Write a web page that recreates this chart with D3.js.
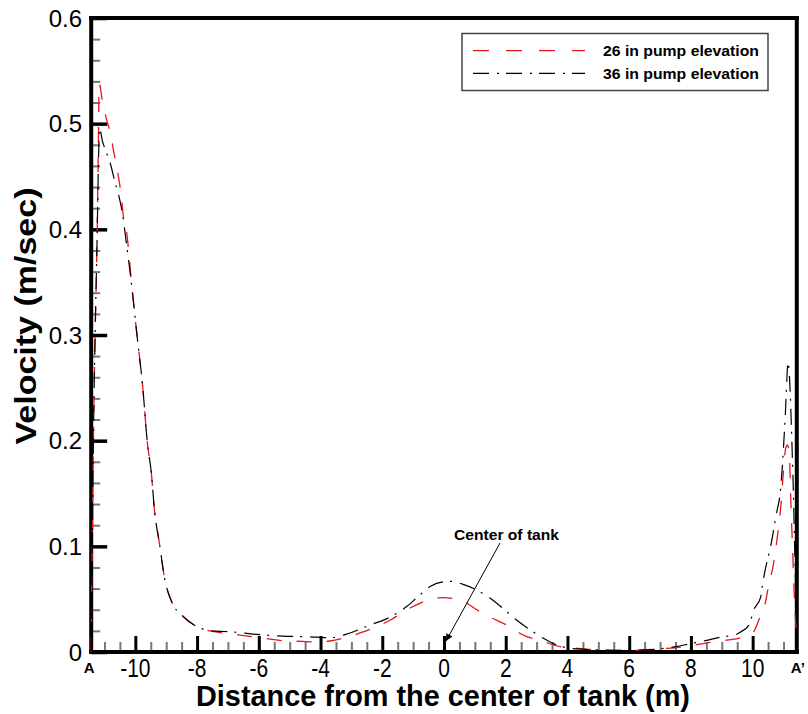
<!DOCTYPE html>
<html>
<head>
<meta charset="utf-8">
<script src="https://cdn.jsdelivr.net/npm/d3@7"></script>
<style>
  html, body { margin: 0; padding: 0; background: #fff; }
  svg { display: block; }
</style>
</head>
<body>
<svg id="chart" width="808" height="714"></svg>
<script>
// ---------- DATA ----------
const seriesNames = ["26 in pump elevation", "36 in pump elevation"];

const x26 = [-11.43, -11.41, -11.39, -11.35, -11.30, -11.24, -11.20, -11.17, -11.07, -10.94,
  -10.81, -10.71, -10.62, -10.52, -10.45, -10.39, -10.29, -10.10, -9.94, -9.77,
  -9.61, -9.48, -9.38, -9.22, -9.06, -8.80, -8.50, -8.00, -7.40, -6.85,
  -6.36, -5.81, -5.32, -4.60, -4.20, -3.70, -3.15, -2.62, -2.20, -1.75,
  -1.21, -0.78, -0.35, 0.00, 0.19, 0.63, 1.06, 1.49, 2.03, 2.57,
  3.22, 3.77, 4.31, 5.00, 5.50, 6.00, 6.50, 7.00, 7.50, 8.00,
  8.50, 9.00, 9.60, 10.00, 10.26, 10.42, 10.53, 10.64, 10.80, 10.91,
  11.00, 11.07, 11.13, 11.19, 11.24, 11.29, 11.34, 11.39, 11.43];
const v26 = [0.000, 0.070, 0.115, 0.219, 0.305, 0.390, 0.475, 0.538, 0.522, 0.505,
  0.491, 0.475, 0.461, 0.445, 0.430, 0.413, 0.399, 0.342, 0.298, 0.254,
  0.198, 0.169, 0.134, 0.103, 0.071, 0.046, 0.035, 0.024, 0.019, 0.017,
  0.015, 0.013, 0.011, 0.010, 0.0095, 0.0104, 0.014, 0.019, 0.024, 0.030,
  0.040, 0.046, 0.051, 0.0515, 0.051, 0.048, 0.040, 0.033, 0.0255, 0.016,
  0.0098, 0.005, 0.0035, 0.002, 0.0015, 0.0015, 0.002, 0.003, 0.004, 0.006,
  0.0085, 0.0105, 0.0135, 0.018, 0.035, 0.048, 0.065, 0.078, 0.109, 0.137,
  0.172, 0.193, 0.196, 0.185, 0.140, 0.100, 0.060, 0.030, 0.010];

const x36 = [-11.43, -11.41, -11.39, -11.35, -11.30, -11.24, -11.19, -11.16, -11.07, -10.94,
  -10.78, -10.68, -10.52, -10.42, -10.29, -10.10, -9.94, -9.77, -9.61, -9.48,
  -9.38, -9.22, -9.06, -8.80, -8.50, -8.00, -7.50, -6.85, -6.20, -5.75,
  -5.23, -4.60, -4.12, -3.70, -3.05, -2.40, -1.75, -1.21, -0.78, -0.45,
  0.00, 0.25, 0.62, 1.06, 1.49, 1.92, 2.36, 2.79, 3.22, 3.66,
  4.09, 4.60, 5.00, 5.50, 6.00, 6.50, 7.00, 7.50, 8.00, 8.47,
  8.96, 9.18, 9.50, 9.61, 9.88, 10.04, 10.26, 10.31, 10.64, 10.75,
  10.91, 10.96, 11.05, 11.15, 11.19, 11.23, 11.28, 11.32, 11.36, 11.40, 11.43];
const v36 = [0.000, 0.070, 0.115, 0.219, 0.305, 0.390, 0.470, 0.496, 0.484, 0.473,
  0.459, 0.447, 0.430, 0.415, 0.387, 0.342, 0.298, 0.254, 0.198, 0.169,
  0.134, 0.103, 0.071, 0.046, 0.035, 0.024, 0.020, 0.019, 0.017, 0.016,
  0.015, 0.0145, 0.014, 0.0135, 0.018, 0.0255, 0.033, 0.043, 0.054, 0.062,
  0.0665, 0.0668, 0.064, 0.0587, 0.051, 0.041, 0.030, 0.021, 0.013, 0.0066,
  0.0035, 0.0025, 0.002, 0.0015, 0.0015, 0.002, 0.003, 0.005, 0.008, 0.0107,
  0.014, 0.015, 0.017, 0.019, 0.0255, 0.040, 0.052, 0.062, 0.109, 0.128,
  0.156, 0.175, 0.220, 0.274, 0.262, 0.235, 0.190, 0.150, 0.100, 0.050, 0.020];

const xTickValues = [-10, -8, -6, -4, -2, 0, 2, 4, 6, 8, 10];
const yTickValues = [0, 0.1, 0.2, 0.3, 0.4, 0.5, 0.6];
const endLabels = ["A", "A\u2019"];
const xTitle = "Distance from the center of tank (m)";
const yTitle = "Velocity (m/sec)";
const annotationText = "Center of tank";
const annotationX = 0;

// ---------- LAYOUT ----------
const svg = d3.select("#chart");
const xDomain = [-11.43, 11.43];
const x = d3.scaleLinear().domain(xDomain).range([91.2, 796.8]);
const y = d3.scaleLinear().domain([0, 0.6]).range([652, 18]);
const font = "'Liberation Sans', Arial, Helvetica, sans-serif";

// minor ticks
const xMinor = d3.range(-11, 11.01, 0.5).filter(v => Math.abs(v % 2) > 1e-6);
const yMinor = d3.range(0.02, 0.6, 0.02).filter(v => Math.abs(Math.round(v * 10) - v * 10) > 1e-6);

const gx = svg.append("g").attr("transform", `translate(0,${y(0)})`);
gx.call(d3.axisBottom(x).tickValues(xMinor).tickSize(-10).tickFormat(""))
  .call(g => g.select(".domain").remove())
  .call(g => g.selectAll("line").attr("stroke", "#777").attr("stroke-width", 2));
const gx2 = svg.append("g").attr("transform", `translate(0,${y(0)})`);
gx2.call(d3.axisBottom(x).tickValues(xTickValues).tickSize(-16).tickPadding(0).tickFormat(""))
  .call(g => g.select(".domain").remove())
  .call(g => g.selectAll("line").attr("stroke", "#000").attr("stroke-width", 3));

const gy = svg.append("g").attr("transform", `translate(${x(xDomain[0])},0)`);
gy.call(d3.axisLeft(y).tickValues(yMinor).tickSize(-9).tickFormat(""))
  .call(g => g.select(".domain").remove())
  .call(g => g.selectAll("line").attr("stroke", "#777").attr("stroke-width", 2));
const gy2 = svg.append("g").attr("transform", `translate(${x(xDomain[0])},0)`);
gy2.call(d3.axisLeft(y).tickValues(yTickValues).tickSize(-16).tickFormat(""))
  .call(g => g.select(".domain").remove())
  .call(g => g.selectAll("line").attr("stroke", "#000").attr("stroke-width", 3.5));

// y tick labels
svg.append("g").selectAll("text").data(yTickValues).join("text")
  .attr("x", 82).attr("y", d => y(d) + 8.5)
  .attr("text-anchor", "end")
  .attr("font-family", font).attr("font-size", 24)
  .text(d => d === 0 ? "0" : d3.format(".1f")(d));

// x tick labels (condensed)
svg.append("g").selectAll("text").data(xTickValues).join("text")
  .attr("transform", d => `translate(${x(d)},677) scale(0.84,1)`)
  .attr("text-anchor", "middle")
  .attr("font-family", font)
  .attr("font-size", 25)
  .text(d => d);

// end labels A / A'
svg.append("text").attr("x", x(xDomain[0]) - 2).attr("y", 673).attr("text-anchor", "middle")
  .attr("font-family", font).attr("font-weight", "bold").attr("font-size", 15).text(endLabels[0]);
svg.append("text").attr("x", x(xDomain[1]) - 6).attr("y", 673).attr("text-anchor", "start")
  .attr("font-family", font).attr("font-weight", "bold").attr("font-size", 15).text(endLabels[1]);

// frame lines
const frame = svg.append("g").attr("stroke", "#000").attr("stroke-width", 4).attr("stroke-linecap", "square");
frame.append("line").attr("x1", x(xDomain[0])).attr("x2", x(xDomain[0])).attr("y1", y(0.6)).attr("y2", y(0));
frame.append("line").attr("x1", x(xDomain[0])).attr("x2", x(xDomain[1])).attr("y1", y(0)).attr("y2", y(0));
frame.append("line").attr("x1", x(xDomain[1])).attr("x2", x(xDomain[1])).attr("y1", y(0.6)).attr("y2", y(0));
frame.append("line").attr("x1", x(xDomain[0])).attr("x2", x(xDomain[1])).attr("y1", y(0.6)).attr("y2", y(0.6));

// curves
const line = d3.line().x(d => x(d[0])).y(d => y(d[1])).curve(d3.curveMonotoneX);
const d26 = x26.map((v, i) => [v, v26[i]]);
const d36 = x36.map((v, i) => [v, v36[i]]);
const styles = [
  { color: "#e8141c", dash: "15,15", width: 1.3 },
  { color: "#000", dash: "16,7,2,8", width: 1.2 }
];
[d26, d36].forEach((d, i) => {
  svg.append("path").datum(d).attr("d", line)
    .attr("fill", "none").attr("stroke", styles[i].color)
    .attr("stroke-width", styles[i].width).attr("stroke-dasharray", styles[i].dash);
});

// legend
const lg = svg.append("g");
lg.append("rect").attr("x", 462).attr("y", 33.5).attr("width", 306).attr("height", 57)
  .attr("fill", "#fff").attr("stroke", "#444").attr("stroke-width", 1.5);
seriesNames.forEach((name, i) => {
  const ly = 50.7 + i * 22.6;
  lg.append("line").attr("x1", 473).attr("x2", 585).attr("y1", ly).attr("y2", ly)
    .attr("stroke", styles[i].color).attr("stroke-width", 1.3).attr("stroke-dasharray", i === 0 ? "16,17" : "16,8,2,7");
  lg.append("text").attr("x", 603).attr("y", ly + 5.5)
    .attr("font-family", font).attr("font-weight", "bold").attr("font-size", 15)
    .attr("textLength", 156).attr("lengthAdjust", "spacingAndGlyphs")
    .text(name);
});

// annotation
svg.append("defs").append("marker").attr("id", "arrow")
  .attr("viewBox", "0 0 10 10").attr("refX", 10).attr("refY", 5)
  .attr("markerWidth", 10).attr("markerHeight", 7).attr("markerUnits", "userSpaceOnUse")
  .attr("orient", "auto")
  .append("path").attr("d", "M0,0 L10,5 L0,10 Z").attr("fill", "#000");
svg.append("text").attr("x", 454).attr("y", 540)
  .attr("font-family", font).attr("font-weight", "bold").attr("font-size", 15)
  .attr("textLength", 105).attr("lengthAdjust", "spacingAndGlyphs")
  .text(annotationText);
svg.append("line").attr("x1", 500).attr("y1", 543)
  .attr("x2", x(annotationX) + 2).attr("y2", 641)
  .attr("stroke", "#000").attr("stroke-width", 1).attr("marker-end", "url(#arrow)");

// axis titles
svg.append("text").attr("x", 443).attr("y", 706).attr("text-anchor", "middle")
  .attr("font-family", font).attr("font-weight", "bold").attr("font-size", 29)
  .attr("textLength", 494).attr("lengthAdjust", "spacingAndGlyphs")
  .text(xTitle);
svg.append("text").attr("transform", "translate(36,316) rotate(-90)")
  .attr("text-anchor", "middle")
  .attr("font-family", font).attr("font-weight", "bold").attr("font-size", 29)
  .attr("textLength", 257).attr("lengthAdjust", "spacingAndGlyphs")
  .text(yTitle);
</script>
</body>
</html>
